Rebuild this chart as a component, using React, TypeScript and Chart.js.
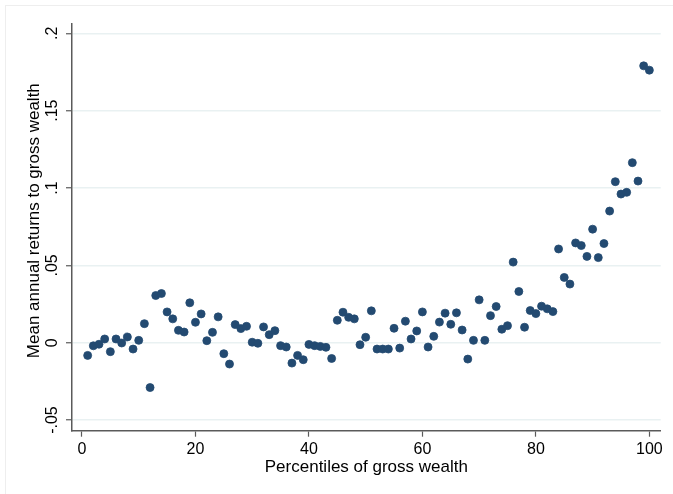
import React, { useEffect, useRef } from "react";
import { Chart, registerables } from "chart.js";

Chart.register(...registerables);

// Percentiles 1..100
const percentiles: number[] = Array.from({ length: 100 }, (_, i) => i + 1);

const meanReturns: number[] = [
  -0.0082, -0.002, -0.001, 0.0024, -0.0058, 0.0024, -0.0002, 0.0037, -0.0041, 0.0015,
  0.0123, -0.029, 0.0305, 0.0318, 0.0199, 0.0154, 0.008, 0.0069, 0.0258, 0.0132,
  0.0186, 0.0013, 0.0067, 0.0167, -0.0071, -0.0138, 0.0117, 0.0091, 0.0106, 0.0003,
  -0.0004, 0.0102, 0.0052, 0.0078, -0.0019, -0.0028, -0.0132, -0.0082, -0.011, -0.0011,
  -0.0019, -0.0024, -0.003, -0.0102, 0.0145, 0.0197, 0.0164, 0.0154, -0.0013, 0.0035,
  0.0206, -0.0041, -0.0041, -0.0041, 0.0093, -0.0035, 0.0139, 0.0024, 0.0076, 0.0199,
  -0.0028, 0.0041, 0.0133, 0.0191, 0.0119, 0.0193, 0.0082, -0.0106, 0.0015, 0.0277,
  0.0015, 0.0175, 0.0234, 0.0087, 0.011, 0.0521, 0.0331, 0.01, 0.0208, 0.0188,
  0.0236, 0.0219, 0.0201, 0.0606, 0.0422, 0.0379, 0.0645, 0.0628, 0.0558, 0.0734,
  0.055, 0.0641, 0.0851, 0.1041, 0.0961, 0.0972, 0.1164, 0.1045, 0.179, 0.1762,
];

const xTickValues: number[] = [0, 20, 40, 60, 80, 100];
const yTickValues: number[] = [-0.05, 0, 0.05, 0.1, 0.15, 0.2];
const yTickLabels: string[] = ["-.05", "0", ".05", ".1", ".15", ".2"];
const xTitle = "Percentiles of gross wealth";
const yTitle = "Mean annual returns to gross wealth";

const FONT = '"Liberation Sans", Arial, Helvetica, sans-serif';
const AXIS_COLOR = "#5a5a5a";
const GRID_COLOR = "#e9f1f2";
const MARKER_COLOR = "#234a71";

const W = 673;
const H = 494;

const frameAndTextPlugin = {
  id: "frameAndText",
  beforeDraw(chart: any) {
    const ctx = chart.ctx;
    ctx.save();
    ctx.fillStyle = "#ffffff";
    ctx.fillRect(0, 0, chart.width, chart.height);
    ctx.strokeStyle = "#eeeeee";
    ctx.lineWidth = 1;
    ctx.strokeRect(5.5, 5.5, chart.width + 10, chart.height + 10);
    ctx.restore();
  },
  afterDraw(chart: any) {
    const ctx = chart.ctx;
    const ys = chart.scales.y;
    const left = chart.chartArea.left;
    ctx.save();
    ctx.fillStyle = "#000000";
    ctx.textAlign = "center";
    ctx.textBaseline = "middle";
    ctx.font = `16px ${FONT}`;
    yTickValues.forEach((v, i) => {
      const py = ys.getPixelForValue(v);
      ctx.save();
      ctx.translate(left - 19.5, py);
      ctx.rotate(-Math.PI / 2);
      ctx.fillText(yTickLabels[i], 0, 0);
      ctx.restore();
    });
    ctx.font = `17px ${FONT}`;
    const midY = (ys.getPixelForValue(0.2) + ys.getPixelForValue(-0.05)) / 2 - 6;
    ctx.translate(left - 38, midY);
    ctx.rotate(-Math.PI / 2);
    ctx.fillText(yTitle, 0, 0);
    ctx.restore();
  },
};

export default function App() {
  const canvasRef = useRef<HTMLCanvasElement | null>(null);

  useEffect(() => {
    const canvas = canvasRef.current;
    if (!canvas) return;
    const chart = new Chart(canvas, {
      type: "scatter",
      data: {
        datasets: [
          {
            label: "Mean annual returns",
            data: percentiles.map((p, i) => ({ x: p, y: meanReturns[i] })),
            backgroundColor: MARKER_COLOR,
            borderColor: MARKER_COLOR,
            borderWidth: 0.8,
            pointRadius: 4,
            pointHoverRadius: 4,
          },
        ],
      },
      options: {
        responsive: false,
        animation: false,
        events: [],
        layout: { padding: { top: 23.3, right: 12.3, left: 0, bottom: 0 } },
        plugins: {
          legend: { display: false },
          tooltip: { enabled: false },
          title: { display: false },
        },
        scales: {
          x: {
            type: "linear",
            min: -1.76,
            max: 102.0,
            afterBuildTicks: (scale: any) => {
              scale.ticks = xTickValues.map((v) => ({ value: v }));
            },
            afterFit: (scale: any) => {
              scale.height = H - 430.7;
            },
            grid: {
              drawOnChartArea: false,
              drawTicks: true,
              tickLength: 6,
              tickColor: AXIS_COLOR,
              tickWidth: 1.2,
            },
            border: { display: true, color: AXIS_COLOR, width: 1.5 },
            ticks: {
              color: "#000",
              font: { family: FONT, size: 16 },
              padding: 3,
              maxRotation: 0,
              minRotation: 0,
              autoSkip: false,
              callback: (v: any) => String(v),
            },
            title: {
              display: true,
              text: xTitle,
              color: "#000",
              font: { family: FONT, size: 17 },
              padding: { top: 0, bottom: 16 },
            },
          },
          y: {
            type: "linear",
            min: -0.0569,
            max: 0.2065,
            afterBuildTicks: (scale: any) => {
              scale.ticks = yTickValues.map((v) => ({ value: v }));
            },
            afterFit: (scale: any) => {
              scale.width = 72;
            },
            grid: {
              drawOnChartArea: true,
              color: GRID_COLOR,
              lineWidth: 1.5,
              drawTicks: true,
              tickLength: 6,
              tickColor: AXIS_COLOR,
              tickWidth: 1.2,
            },
            border: { display: true, color: AXIS_COLOR, width: 1.5 },
            ticks: { display: false },
            title: { display: false },
          },
        },
      },
      plugins: [frameAndTextPlugin],
    });
    return () => chart.destroy();
  }, []);

  return (
    <div style={{ position: "absolute", left: 0, top: 0, width: W, height: H, background: "#fff" }}>
      <canvas ref={canvasRef} width={W} height={H} style={{ display: "block" }} />
    </div>
  );
}
